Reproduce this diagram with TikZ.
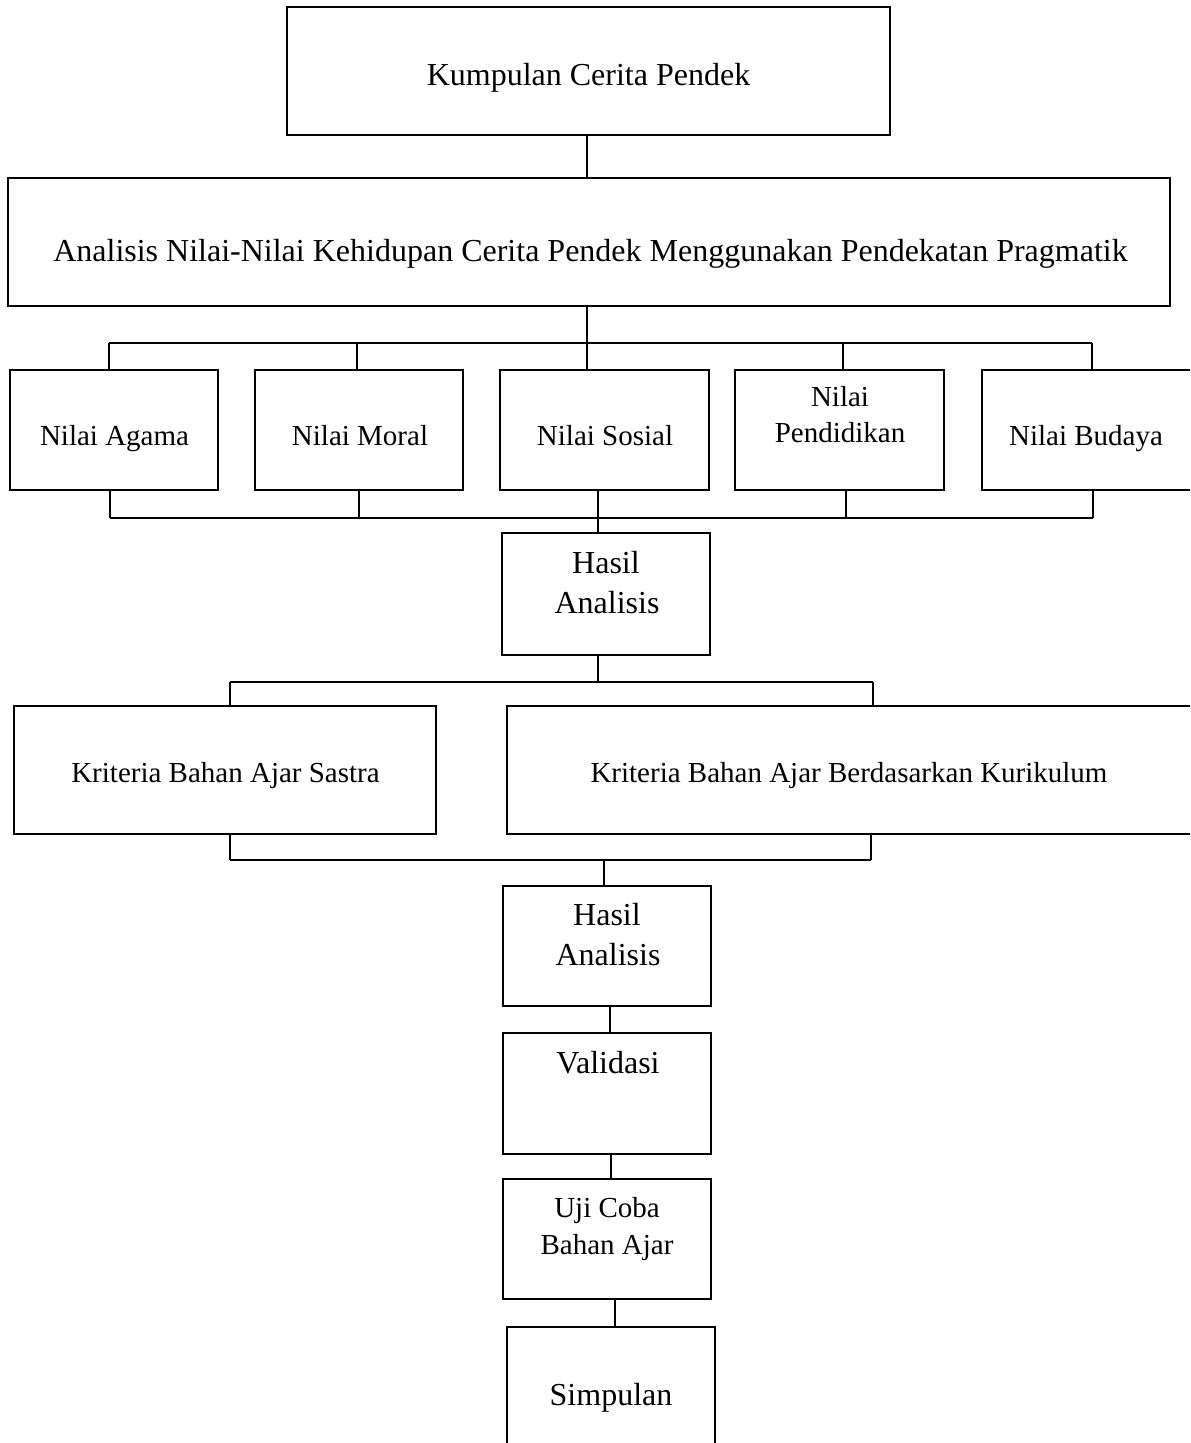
\documentclass[tikz,border=0pt]{standalone}
\usepackage{fontspec}
\setmainfont{Liberation Serif}
\usetikzlibrary{fit}
\tikzset{
  box/.style={draw=black, line width=0.55pt, inner sep=0pt, fill=none},
  conn/.style={draw=black, line width=0.8pt},
  big/.style={anchor=base, inner sep=0pt, font=\fontsize{16}{19}\selectfont},
  norm/.style={anchor=base, inner sep=0pt, font=\fontsize{14.5}{17}\selectfont}
}
\begin{document}
\begin{tikzpicture}[x=0.5pt,y=-0.5pt]
\useasboundingbox (0,0) rectangle (1190,1443);
\fill[white] (0,0) rectangle (1190,1443);
\begin{scope}
\clip (0,0) rectangle (1190,1443);
% boxes
\node[box, fit={(287,7) (890,135)}] (kump) {};
\node[box, fit={(8,178) (1170,306)}] (ana) {};
\node[box, fit={(10,370) (218,490)}] (agama) {};
\node[box, fit={(255,370) (463,490)}] (moral) {};
\node[box, fit={(500,370) (709,490)}] (sosial) {};
\node[box, fit={(735,370) (944,490)}] (pend) {};
\node[box, fit={(982,370) (1200,490)}] (budaya) {};
\node[box, fit={(502,533) (710,655)}] (hasil) {};
\node[box, fit={(14,706) (436,834)}] (sastra) {};
\node[box, fit={(507,706) (1200,834)}] (kur) {};
\node[box, fit={(503,886) (711,1006)}] (hasilb) {};
\node[box, fit={(503,1033) (711,1154)}] (valid) {};
\node[box, fit={(503,1179) (711,1299)}] (uji) {};
\node[box, fit={(507,1327) (715,1460)}] (simp) {};
\end{scope}
% texts
\node[big] (tkump) at (588.5,86) {Kumpulan Cerita Pendek};
\node[big] (tana) at (590.5,262) {Analisis Nilai-Nilai Kehidupan Cerita Pendek Menggunakan Pendekatan Pragmatik};
\node[norm] (tagama) at (114.5,445) {Nilai Agama};
\node[norm] (tmoral) at (360,445) {Nilai Moral};
\node[norm] (tsosial) at (605,445) {Nilai Sosial};
\node[norm] (tpend1) at (840,407) {Nilai};
\node[norm] (tpend2) at (840,443) {Pendidikan};
\node[norm] (tbudaya) at (1086,445) {Nilai Budaya};
\node[big] (thasil1) at (606,573) {Hasil};
\node[big] (thasil2) at (607,613) {Analisis};
\node[norm] (tsastra) at (225.5,782) {Kriteria Bahan Ajar Sastra};
\node[norm] (tkur) at (849,782) {Kriteria Bahan Ajar Berdasarkan Kurikulum};
\node[big] (thasilb1) at (607,925) {Hasil};
\node[big] (thasilb2) at (608,965) {Analisis};
\node[big] (tvalid) at (608,1073) {Validasi};
\node[norm] (tuji1) at (607,1217) {Uji Coba};
\node[norm] (tuji2) at (607,1254) {Bahan Ajar};
\node[big] (tsimp) at (611,1405) {Simpulan};
% junction coordinates
\coordinate (a0) at (587,343);
\coordinate (t1) at (109,343);
\coordinate (t2) at (357,343);
\coordinate (t4) at (843,343);
\coordinate (t5) at (1092,343);
\coordinate (d1) at (110,518);
\coordinate (d2) at (359,518);
\coordinate (d3) at (598,518);
\coordinate (d4) at (846,518);
\coordinate (d5) at (1093,518);
\coordinate (e0) at (598,682);
\coordinate (e1) at (230,682);
\coordinate (e2) at (873,682);
\coordinate (f0) at (604,860);
\coordinate (f1) at (230,860);
\coordinate (f2) at (871,860);
\coordinate (g1) at (610,0);
\coordinate (g2) at (611,0);
\coordinate (g3) at (615,0);
% connectors
\draw[conn] (kump.south -| a0) -- (ana.north -| a0);
\draw[conn] (ana.south -| a0) -- (a0);
\draw[conn] (t1) -- (t5);
\draw[conn] (t1) -- (t1 |- agama.north);
\draw[conn] (t2) -- (t2 |- moral.north);
\draw[conn] (a0) -- (a0 |- sosial.north);
\draw[conn] (t4) -- (t4 |- pend.north);
\draw[conn] (t5) -- (t5 |- budaya.north);
\draw[conn] (agama.south -| d1) -- (d1);
\draw[conn] (moral.south -| d2) -- (d2);
\draw[conn] (sosial.south -| d3) -- (d3);
\draw[conn] (pend.south -| d4) -- (d4);
\draw[conn] (budaya.south -| d5) -- (d5);
\draw[conn] (d1) -- (d5);
\draw[conn] (d3) -- (d3 |- hasil.north);
\draw[conn] (hasil.south -| e0) -- (e0);
\draw[conn] (e1) -- (e2);
\draw[conn] (e1) -- (e1 |- sastra.north);
\draw[conn] (e2) -- (e2 |- kur.north);
\draw[conn] (sastra.south -| f1) -- (f1);
\draw[conn] (kur.south -| f2) -- (f2);
\draw[conn] (f1) -- (f2);
\draw[conn] (f0) -- (f0 |- hasilb.north);
\draw[conn] (hasilb.south -| g1) -- (valid.north -| g1);
\draw[conn] (valid.south -| g2) -- (uji.north -| g2);
\draw[conn] (uji.south -| g3) -- (simp.north -| g3);
\end{tikzpicture}
\end{document}
